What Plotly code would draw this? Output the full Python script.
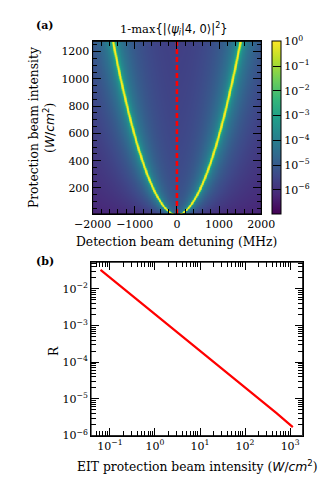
import numpy as np
import plotly.graph_objects as go

# ---------------- data ----------------
# panel (a): resonance curve (protection intensity W/cm^2 -> |detuning| MHz)
res_intensity = [10, 15, 67, 163, 300, 607, 900, 1275]
res_detuning = [120, 150, 290, 500, 700, 1040, 1270, 1500]
detuning_axis = np.linspace(-2000, 2000, 401)
intensity_axis = np.linspace(10, 1275, 254)
core_width = 16.0          # MHz, bright core of resonance
tail_strength = 2.0        # MHz^2 at top intensity
background_level = -6.4    # log10 floor
cbar_tickvals = [-6, -5, -4, -3, -2, -1, 0]
cbar_ticktext = ["10<sup>−6</sup>", "10<sup>−5</sup>", "10<sup>−4</sup>", "10<sup>−3</sup>",
                 "10<sup>−2</sup>", "10<sup>−1</sup>", "10<sup>0</sup>"]
ya_tickvals = [200, 400, 600, 800, 1000, 1200]
xa_tickvals = [-2000, -1000, 0, 1000, 2000]
xa_ticktext = ["−2000", "−1000", "0", "1000", "2000"]

# panel (b): R vs EIT protection intensity
eit_intensity = [0.0617, 0.5, 5.0, 50.0, 500.0, 1150.0]
ratio_R = [0.0331, 0.0041, 0.00041, 0.000041, 0.0000041, 0.0000017]
xb_tickvals = [0.1, 1, 10, 100, 1000]
xb_ticktext = ["10<sup>−1</sup>", "10<sup>0</sup>", "10<sup>1</sup>", "10<sup>2</sup>", "10<sup>3</sup>"]
yb_tickvals = [1e-6, 1e-5, 1e-4, 1e-3, 1e-2]
yb_ticktext = ["10<sup>−6</sup>", "10<sup>−5</sup>", "10<sup>−4</sup>", "10<sup>−3</sup>", "10<sup>−2</sup>"]

# ---------------- field for panel (a) ----------------
# smooth resonance path through the read points (quadratic in sqrt(intensity))
coef = np.polyfit(np.sqrt(res_intensity), res_detuning, 2)
I = intensity_axis[:, None]
X = detuning_axis[None, :]
D = np.polyval(coef, np.sqrt(intensity_axis))[:, None]
d1 = np.abs(X + D)
d2 = np.abs(X - D)
g2 = tail_strength * np.sqrt(I / intensity_axis.max())
field = (np.exp(-(d1 / core_width) ** 2) + np.exp(-(d2 / core_width) ** 2)
         + g2 / (g2 + d1 ** 2) + g2 / (g2 + d2 ** 2) + 10 ** background_level)
logz = np.round(np.log10(np.clip(field, 1e-9, 1.0)), 3)

W, H = 332, 490
def fx(x): return x / W
def fy(y): return 1 - y / H

def log_minor(lo, hi):
    vals = []
    for e in range(lo, hi + 1):
        for m in range(2, 10):
            vals.append(m * 10.0 ** e)
    return vals

SERIF = "DejaVu Serif"
tickfont = dict(family=SERIF, size=11, color="black")
TITLE = 12.3

fig = go.Figure()
fig.add_trace(go.Heatmap(
    x=detuning_axis, y=intensity_axis, z=logz.tolist(),
    colorscale="Viridis", zmin=-7, zmax=0,
    xaxis="x", yaxis="y",
    colorbar=dict(
        x=fx(280.7), xanchor="left", xpad=0, ypad=0,
        y=fy(129.8), yanchor="middle", len=175 / H, lenmode="fraction",
        thickness=8.6, thicknessmode="pixels",
        outlinewidth=1, outlinecolor="black",
        tickmode="array", tickvals=cbar_tickvals, ticktext=cbar_ticktext,
        ticks="inside", ticklen=8, tickcolor="black", tickwidth=1,
        tickfont=tickfont,
    ),
))
fig.add_trace(go.Scatter(
    x=[0, 0], y=[intensity_axis.min(), intensity_axis.max()], mode="lines",
    line=dict(color="red", width=2.5, dash="5px,3px"),
    xaxis="x", yaxis="y", showlegend=False, hoverinfo="skip",
))
fig.add_trace(go.Scatter(
    x=eit_intensity, y=ratio_R, mode="lines",
    line=dict(color="red", width=2.2),
    xaxis="x2", yaxis="y2", showlegend=False,
))

common = dict(showline=True, linecolor="black", linewidth=1, mirror="allticks",
              ticks="inside", tickcolor="black", tickwidth=1, ticklen=8,
              showgrid=False, zeroline=False, tickfont=tickfont)

fig.update_layout(
    width=W, height=H, margin=dict(l=0, r=0, t=0, b=0),
    paper_bgcolor="white", plot_bgcolor="white", showlegend=False,
    xaxis=dict(domain=[fx(81.7), fx(269)], anchor="y", range=[-2000, 2000],
               tickmode="array", tickvals=xa_tickvals, ticktext=xa_ticktext,
               minor=dict(tickmode="linear", ticks="inside", ticklen=4.5, tickcolor="black",
                          dtick=200, tick0=0, showgrid=False),
               **common),
    yaxis=dict(domain=[fy(217), fy(42)], anchor="x", range=[10, 1275],
               tickmode="array", tickvals=ya_tickvals,
               minor=dict(tickmode="linear", ticks="inside", ticklen=4.5, tickcolor="black",
                          dtick=50, tick0=0, showgrid=False),
               **common),
    xaxis2=dict(domain=[fx(80), fx(315)], anchor="y2", type="log", range=[-1.42, 3.28],
                tickmode="array", tickvals=xb_tickvals, ticktext=xb_ticktext,
                minor=dict(tickmode="array", tickvals=log_minor(-2, 3), ticks="inside",
                           ticklen=4.5, tickcolor="black", showgrid=False),
                **common),
    yaxis2=dict(domain=[fy(442), fy(266)], anchor="x2", type="log", range=[-6.005, -1.27],
                tickmode="array", tickvals=yb_tickvals, ticktext=yb_ticktext,
                minor=dict(tickmode="array", tickvals=log_minor(-7, -2), ticks="inside",
                           ticklen=4.5, tickcolor="black", showgrid=False),
                **common),
)

# explicit frames around both panels
for (x0, x1, y0, y1) in [(81.7, 269, 217, 42), (80, 315, 442, 266)]:
    fig.add_shape(type="rect", xref="paper", yref="paper",
                  x0=fx(x0), x1=fx(x1), y0=fy(y0), y1=fy(y1),
                  line=dict(color="black", width=1), layer="above")

SANSSPAN = "<span style='font-family:DejaVu Sans'>"
ann = [
    dict(x=fx(17), y=fy(26), text="<b>(a)</b>", xanchor="left", yanchor="middle",
         font=dict(family=SERIF, size=11)),
    dict(x=fx(172.5), y=fy(29),
         text="1-max" + SANSSPAN + "{|⟨<i>ψ<sub>i</sub></i>|4, 0⟩|<sup>2</sup>}</span>",
         xanchor="center", yanchor="middle", font=dict(family=SERIF, size=11.5)),
    dict(x=fx(175.4), y=fy(245), text="Detection beam detuning (MHz)", xanchor="center", yanchor="middle",
         font=dict(family=SERIF, size=TITLE)),
    dict(x=fx(16), y=fy(129.5), text="Protection beam intensity", textangle=-90,
         xanchor="center", yanchor="middle", font=dict(family=SERIF, size=TITLE)),
    dict(x=fx(32.5), y=fy(129.5),
         text="(" + SANSSPAN + "<i>W</i>/<i>cm</i><sup>2</sup></span>)", textangle=-90,
         xanchor="center", yanchor="middle", font=dict(family=SERIF, size=TITLE)),
    dict(x=fx(17), y=fy(265), text="<b>(b)</b>", xanchor="left", yanchor="middle",
         font=dict(family=SERIF, size=11)),
    dict(x=fx(39), y=fy(356), text="R", textangle=-90, xanchor="center", yanchor="middle",
         font=dict(family=SERIF, size=TITLE)),
    dict(x=fx(198.5), y=fy(473),
         text="EIT protection beam intensity (" + SANSSPAN + "<i>W</i>/<i>cm</i><sup>2</sup></span>)",
         xanchor="center", yanchor="middle", font=dict(family=SERIF, size=TITLE)),
]
for a in ann:
    a.update(xref="paper", yref="paper", showarrow=False)
    a["font"]["color"] = "black"
fig.update_layout(annotations=ann)

fig.write_html("out.html", config={"displayModeBar": False},
               post_script="document.body.style.margin='0';document.body.style.padding='0';")
